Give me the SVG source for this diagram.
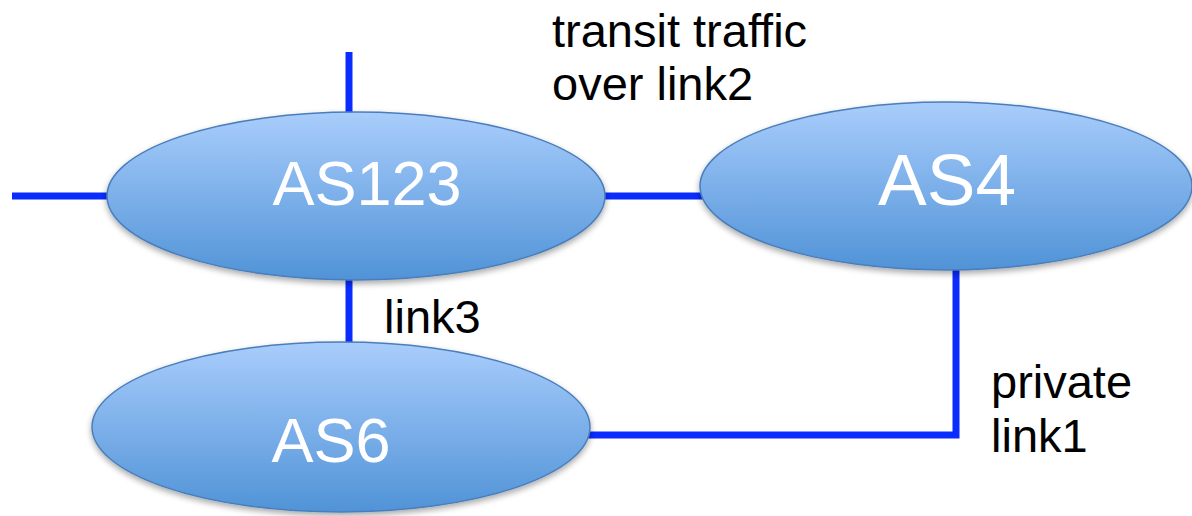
<svg xmlns="http://www.w3.org/2000/svg" width="1192" height="516" viewBox="0 0 1192 516">
  <defs>
    <linearGradient id="nodeFill" x1="0" y1="0" x2="0" y2="1">
      <stop offset="0" stop-color="#a9cdfc"/>
      <stop offset="1" stop-color="#5093d7"/>
    </linearGradient>
    <filter id="shadow" x="-10%" y="-10%" width="120%" height="130%">
      <feGaussianBlur in="SourceAlpha" stdDeviation="3"/>
      <feOffset dx="0" dy="3" result="b"/>
      <feComponentTransfer><feFuncA type="linear" slope="0.35"/></feComponentTransfer>
      <feMerge><feMergeNode/><feMergeNode in="SourceGraphic"/></feMerge>
    </filter>
  </defs>
  <style>
    .link { stroke: #0a2cff; stroke-width: 7; fill: none; }
    .node { fill: url(#nodeFill); stroke: #4a7ebb; stroke-width: 1.5; filter: url(#shadow); }
    .name { fill: #ffffff; font-family: "Liberation Sans", Arial, sans-serif; text-anchor: middle; }
    .label { fill: #000000; font-family: "Liberation Sans", Arial, sans-serif; font-size: 47px; }
  </style>
  <rect width="1192" height="516" fill="#ffffff"/>

  <!-- connectors -->
  <g id="connectors">
    <line class="link" x1="349" y1="52" x2="349" y2="120"/>
    <line class="link" x1="12" y1="196" x2="115" y2="196"/>
    <line class="link" x1="598" y1="196" x2="706" y2="196"/>
    <line class="link" x1="349" y1="272" x2="349" y2="348"/>
    <polyline class="link" points="956,262 956,435 582,435"/>
  </g>

  <g id="as123">
    <ellipse class="node" cx="356" cy="196" rx="249" ry="84"/>
    <text class="name" x="367" y="205" font-size="63">AS123</text>
  </g>

  <g id="as4">
    <ellipse class="node" cx="946" cy="186" rx="246" ry="84"/>
    <text class="name" x="947" y="205" font-size="73">AS4</text>
  </g>

  <g id="as6">
    <ellipse class="node" cx="341" cy="427" rx="249" ry="85"/>
    <text class="name" x="331" y="462" font-size="63">AS6</text>
  </g>

  <g id="labels">
    <text class="label" x="552" y="47">transit traffic</text>
    <text class="label" x="552" y="100">over link2</text>
    <text class="label" x="384" y="333">link3</text>
    <text class="label" x="991" y="398">private</text>
    <text class="label" x="991" y="452">link1</text>
  </g>
</svg>
